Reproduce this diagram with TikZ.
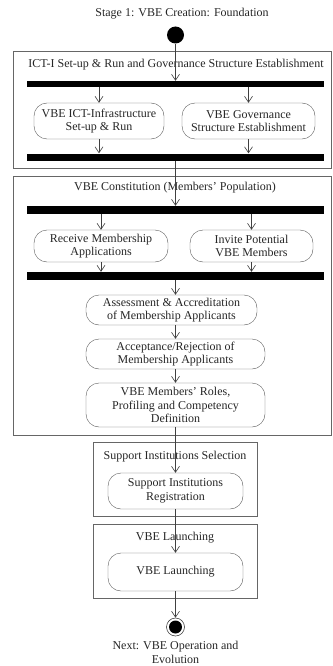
\documentclass[tikz,border=0pt]{standalone}
\usepackage{fontspec}
\setmainfont{Liberation Serif}
\usetikzlibrary{arrows.meta}
\tikzset{x=1pt, y=-1pt,
    every node/.style={font=\fontsize{12}{13.5}\selectfont, text=black!85},
    activity/.style={draw=black!65, rounded corners=13pt, align=center, inner sep=1pt},
    syncbar/.style={fill=black, minimum width=297pt, inner sep=0pt},
    phase/.style={draw=black!60, line width=0.7pt},
    flow/.style={draw=black!75, line width=0.6pt, -{Straight Barb[length=6pt,width=8pt]}},
    }

\begin{document}
\begin{tikzpicture}
\useasboundingbox (0,0) rectangle (332,666);
% phases
\draw[phase] (13,51) rectangle (331,168);
\draw[phase] (13,176) rectangle (331,435);
\draw[phase] (93,442) rectangle (257,516);
\draw[phase] (93,524) rectangle (257,598);

\node (title) at (182,14) {Stage 1: VBE Creation: Foundation};
\node[circle, fill=black, minimum size=17pt, inner sep=0pt] (start) at (175.5,35) {};

% ICT-I set-up and governance
\node (lab1) at (176,65) {ICT-I Set-up \& Run and Governance Structure Establishment};
\node[syncbar, minimum height=6pt] (fork1) at (175.5,84) {};
\node[activity, minimum width=130pt, minimum height=36pt] (ictA) at (99,121) {VBE ICT-Infrastructure\\Set-up \& Run};
\node[activity, minimum width=133pt, minimum height=36pt] (govB) at (248.5,121) {VBE Governance\\Structure Establishment};
\node[syncbar, minimum height=7pt] (join1) at (175.5,157) {};

% constitution
\node (lab2) at (175,188) {VBE Constitution (Members' Population)};
\node[syncbar, minimum height=8pt] (fork2) at (175.5,210) {};
\node[activity, minimum width=134pt, minimum height=32pt] (recvC) at (101,246) {Receive Membership\\Applications};
\node[activity, minimum width=123pt, minimum height=32pt] (inviteD) at (251.5,246) {Invite Potential\\VBE Members};
\node[syncbar, minimum height=8pt] (join2) at (175.5,276) {};
\node[activity, minimum width=171pt, minimum height=30pt] (assessE) at (171.5,310) {Assessment \& Accreditation\\of Membership Applicants};
\node[activity, minimum width=179pt, minimum height=30pt] (acceptF) at (175.5,354) {Acceptance/Rejection of\\Membership Applicants};
\node[activity, minimum width=179pt, minimum height=44pt] (rolesG) at (175.5,405) {VBE Members' Roles,\\Profiling and Competency\\Definition};

% support institutions
\node (lab3) at (175,457) {Support Institutions Selection};
\node[activity, minimum width=135pt, minimum height=36pt] (regH) at (175.5,491) {Support Institutions\\Registration};

% launching
\node (lab4) at (175,538) {VBE Launching};
\node[activity, minimum width=135pt, minimum height=38pt] (launchI) at (175.5,572) {VBE Launching};

\node[circle, draw=black!75, line width=0.6pt, minimum size=18pt, inner sep=0pt] (stop) at (175.5,627) {};
\node[circle, fill=black, minimum size=13pt, inner sep=0pt] at (stop) {};
\node[align=center, anchor=north] (next) at (175.5,638) {Next: VBE Operation and\\Evolution};

% flows
\draw[flow] (start) -- (fork1);
\foreach \n in {ictA,govB} {
  \draw[flow] (fork1.south -| \n) -- (\n);
  \draw[flow] (\n) -- (\n |- join1.north);
}
\draw[flow] (join1) -- (fork2);
\foreach \n in {recvC,inviteD} {
  \draw[flow] (fork2.south -| \n) -- (\n);
  \draw[flow] (\n) -- (\n |- join2.north);
}
\draw[flow] (join2) -- (join2 |- assessE.north);
\draw[flow] (join2 |- assessE.south) -- (acceptF);
\draw[flow] (acceptF) -- (rolesG);
\draw[flow] (rolesG) -- (regH);
\draw[flow] (regH) -- (launchI);
\draw[flow] (launchI) -- (stop);
\end{tikzpicture}
\end{document}
